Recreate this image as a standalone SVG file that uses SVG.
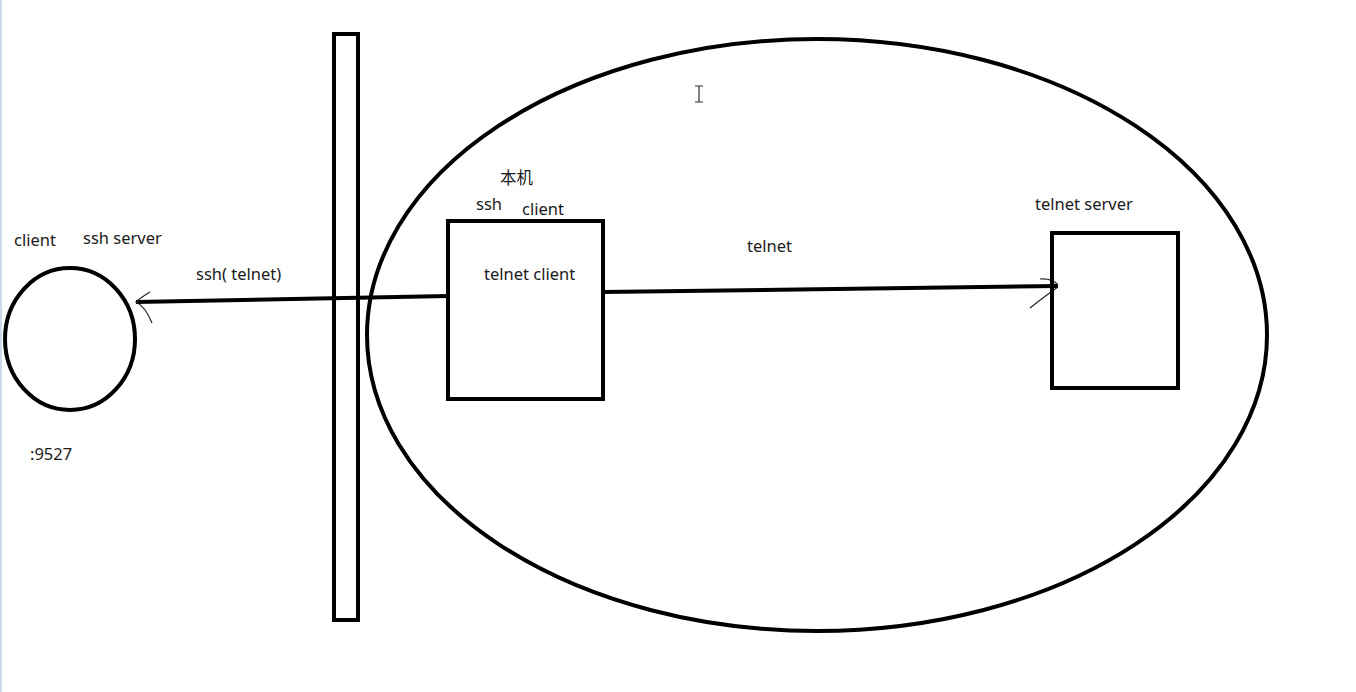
<svg xmlns="http://www.w3.org/2000/svg" width="1356" height="692" viewBox="0 0 1356 692">
<style>
.s{fill:none;stroke:#000;stroke-width:4}
.t{font-family:"Noto Sans","Open Sans","Noto Sans CJK SC",sans-serif;font-size:16.5px;fill:#1a1a1a}
.a{fill:none;stroke:#222;stroke-width:1.2}
</style>
<rect width="1356" height="692" fill="#fff"/>
<rect x="0" y="0" width="2" height="692" fill="#cfd8e6"/>
<g id="connectors">
<path class="s" d="M448,296 L136,302"/>
<path class="a" d="M150,292 Q140,298 136,302 Q145,306 152,323"/>
<path class="s" d="M603,292 L1058,286"/>
<path class="a" d="M1040,279 Q1052,278 1058,285 M1058,287 Q1045,296 1030,308"/>
</g>
<g id="client">
<ellipse class="s" cx="70" cy="339" rx="65" ry="71"/>
<text class="t" x="14" y="246">client</text>
<text class="t" x="83" y="244">ssh server</text>
<text class="t" x="30" y="460">:9527</text>
</g>
<g id="firewall">
<rect class="s" x="334" y="34" width="24" height="586"/>
</g>
<g id="network">
<ellipse class="s" cx="817" cy="335" rx="450" ry="296"/>
</g>
<g id="local">
<rect class="s" x="448" y="221" width="155" height="178"/>
<text class="t" x="500" y="184">本机</text>
<text class="t" x="476" y="210">ssh</text>
<text class="t" x="522" y="215">client</text>
<text class="t" x="484" y="280">telnet client</text>
</g>
<text class="t" x="196" y="280">ssh( telnet)</text>
<text class="t" x="747" y="252">telnet</text>
<g id="telnet-server">
<rect class="s" x="1052" y="233" width="126" height="155"/>
<text class="t" x="1035" y="210">telnet server</text>
</g>
<path d="M695,86 H703 M699,86 V102 M695,102 H703" stroke="#333" stroke-width="1.2" fill="none"/>
</svg>
